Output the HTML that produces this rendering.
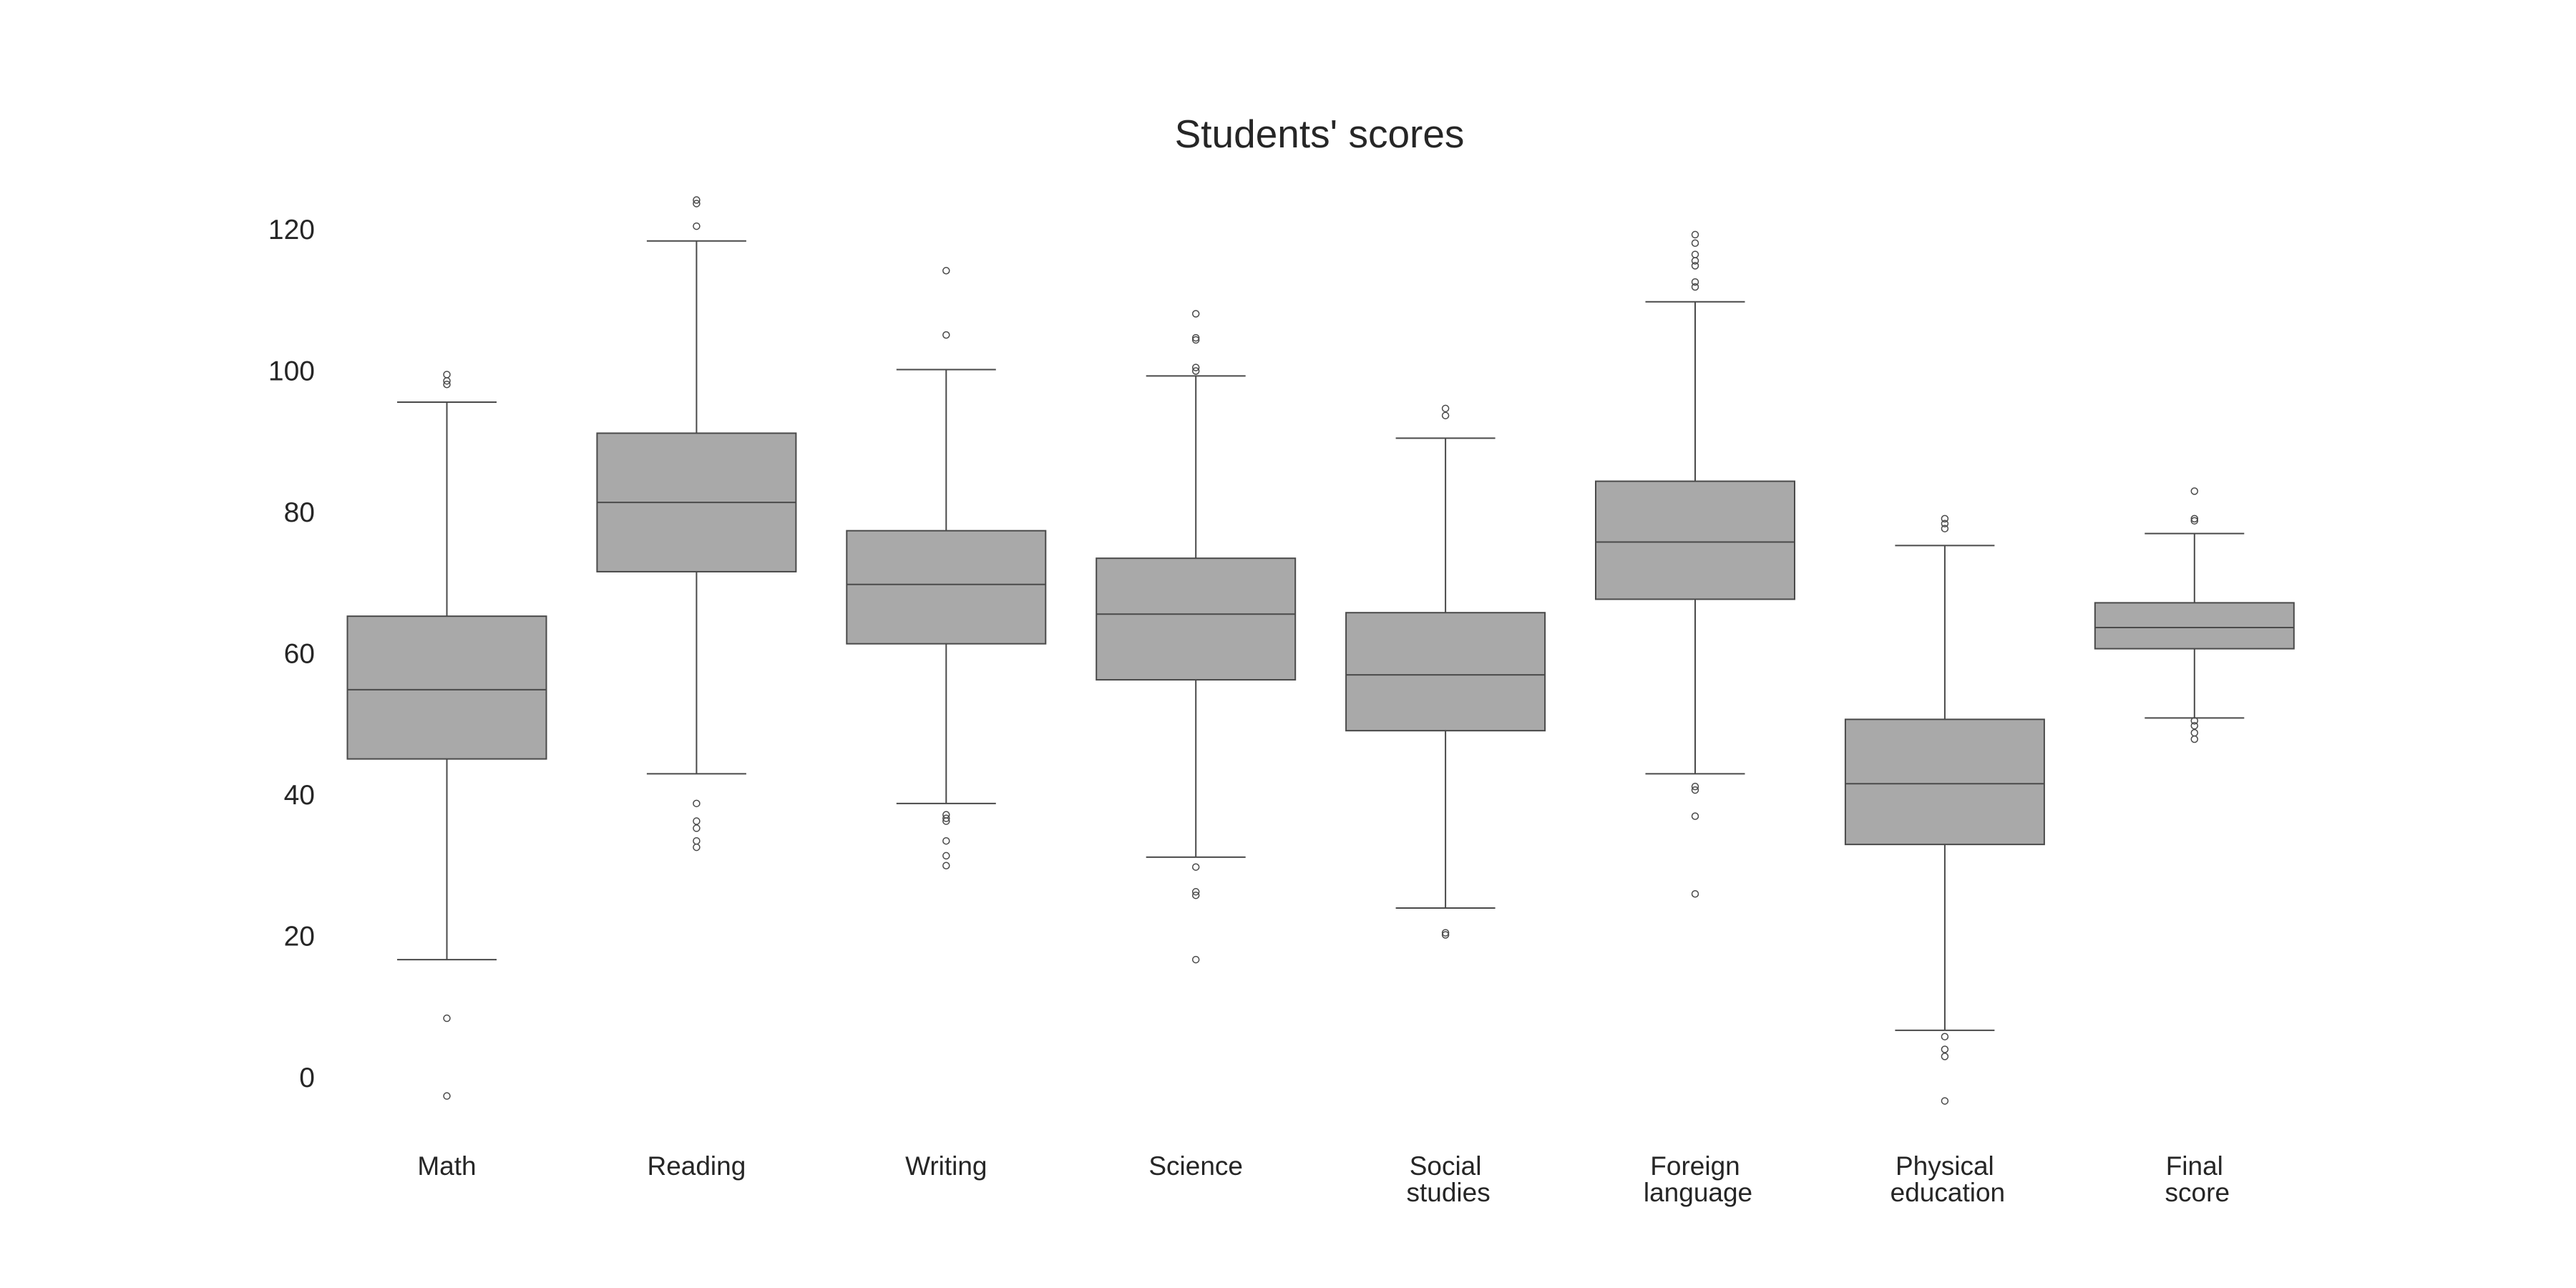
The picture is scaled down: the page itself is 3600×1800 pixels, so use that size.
<!DOCTYPE html>
<html><head><meta charset="utf-8"><style>
html,body{margin:0;padding:0;background:#fff;}
svg{display:block;font-family:"Liberation Sans",sans-serif;}
</style></head><body>
<svg id="chart" width="3600" height="1800" viewBox="0 0 3600 1800" xmlns="http://www.w3.org/2000/svg">
<rect width="3600" height="1800" fill="#fff"/>
<text x="1844" y="206" text-anchor="middle" font-size="55" fill="#262626">Students' scores</text>
<g id="yaxis"></g>
<g id="xaxis"></g>
<g id="boxes"></g>
</svg>
<script>
const categories = [["Math"],["Reading"],["Writing"],["Science"],["Social","studies"],["Foreign","language"],["Physical","education"],["Final","score"]];
const whiskerLow = [16.7,43.0,38.8,31.2,24.0,43.0,6.7,50.9];
const q1 = [45.1,71.6,61.4,56.3,49.1,67.7,33.0,60.7];
const median = [54.9,81.4,69.8,65.6,57.0,75.8,41.6,63.7];
const q3 = [65.3,91.2,77.4,73.5,65.8,84.4,50.7,67.2];
const whiskerHigh = [95.6,118.4,100.2,99.3,90.5,109.8,75.3,77.0];
const outliers = [
  [99.5,98.6,98.1,8.4,-2.6],
  [124.2,123.7,120.5,38.8,36.3,35.3,33.5,32.6],
  [114.2,105.1,37.2,36.7,36.3,33.5,31.4,30.0],
  [108.1,104.7,104.4,100.5,100.0,29.8,26.3,25.8,16.7],
  [94.7,93.7,20.5,20.2],
  [119.3,118.1,116.5,115.6,114.9,112.6,111.9,41.2,40.7,37.0,26.0],
  [79.1,78.4,77.7,5.8,4.0,3.0,-3.3],
  [83.0,79.1,78.8,50.5,49.8,48.8,47.9]
];
const yTicks = [0,20,40,60,80,100,120];

const NS="http://www.w3.org/2000/svg";
function yScale(v){return 1506 - v*9.875;}
function xScale(i){return 624.5 + i*348.9;}
const boxW=278, capW=139, edge="#4a4a4a";
function mk(tag,attrs,parent){const e=document.createElementNS(NS,tag);for(const k in attrs)e.setAttribute(k,attrs[k]);parent.appendChild(e);return e;}

const ya=document.getElementById('yaxis');
yTicks.forEach(t=>{
  const e=mk('text',{x:440,y:yScale(t)+13,'text-anchor':'end','font-size':39,fill:'#262626'},ya);
  
  
  e.textContent=t;
});
const xa=document.getElementById('xaxis');
categories.forEach((c,i)=>{
  const e=mk('text',{x:xScale(i),y:1642,'text-anchor':'middle','font-size':37,fill:'#262626'},xa);
  
  
  c.forEach((line,j)=>{const s=mk('tspan',{x:xScale(i)+(j>0&&c.length>1?4:0),dy:j===0?0:37},e);s.textContent=line;});
});
const bx=document.getElementById('boxes');
categories.forEach((c,i)=>{
  const g=mk('g',{},bx);
  
  
  const cx=xScale(i);
  mk('line',{x1:cx,x2:cx,y1:yScale(whiskerHigh[i]),y2:yScale(q3[i]),stroke:edge,'stroke-width':2},g);
  mk('line',{x1:cx,x2:cx,y1:yScale(q1[i]),y2:yScale(whiskerLow[i]),stroke:edge,'stroke-width':2},g);
  mk('line',{x1:cx-capW/2,x2:cx+capW/2,y1:yScale(whiskerHigh[i]),y2:yScale(whiskerHigh[i]),stroke:edge,'stroke-width':2},g);
  mk('line',{x1:cx-capW/2,x2:cx+capW/2,y1:yScale(whiskerLow[i]),y2:yScale(whiskerLow[i]),stroke:edge,'stroke-width':2},g);
  mk('rect',{x:cx-boxW/2,y:yScale(q3[i]),width:boxW,height:yScale(q1[i])-yScale(q3[i]),fill:'#a9a9a9',stroke:edge,'stroke-width':2},g);
  mk('line',{x1:cx-boxW/2,x2:cx+boxW/2,y1:yScale(median[i]),y2:yScale(median[i]),stroke:edge,'stroke-width':2},g);
  outliers[i].forEach(v=>{
    const o=mk('circle',{cx:cx,cy:yScale(v),r:4.5,fill:'none',stroke:edge,'stroke-width':1.5},g);
    
    
  });
});
</script>
</body></html>
